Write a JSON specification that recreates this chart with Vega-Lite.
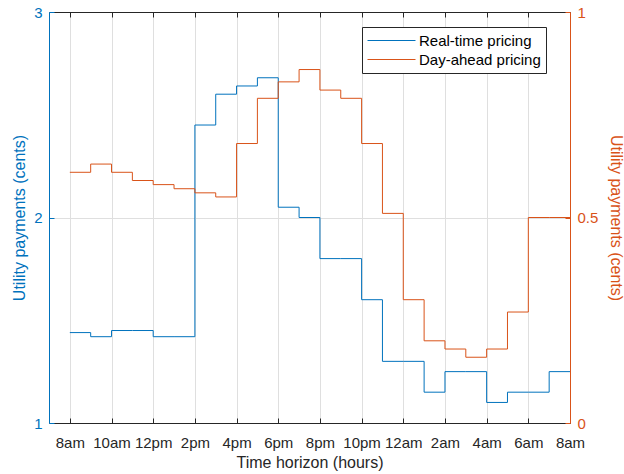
{
  "$schema": "https://vega.github.io/schema/vega-lite/v6.json",
  "width": 521,
  "height": 411,
  "autosize": {"type": "none"},
  "padding": {"left": 49, "top": 12, "right": 54, "bottom": 51},
  "background": "white",
  "config": {
    "font": "Liberation Sans",
    "view": {"stroke": null},
    "axis": {
      "labelFontSize": 15,
      "titleFontSize": 16,
      "titleFontWeight": "normal",
      "gridColor": "#dfdfdf",
      "gridWidth": 1,
      "domainWidth": 1,
      "tickWidth": 1,
      "tickSize": -5,
      "labelPadding": 12,
      "labelOverlap": false,
      "labelFlush": false
    },
    "legend": {
      "orient": "none",
      "legendX": 313,
      "legendY": 15,
      "strokeColor": "#262626",
      "fillColor": "white",
      "padding": 5,
      "symbolType": "M-3,0H3",
      "symbolSize": 256,
      "symbolOffset": 16,
      "symbolStrokeWidth": 1,
      "labelFontSize": 15,
      "labelColor": "#000000",
      "labelOffset": 19,
      "rowPadding": 2
    }
  },
  "data": {
    "values": [
      {"t": 0, "rt": 1.44, "da": 0.61},
      {"t": 1, "rt": 1.42, "da": 0.63},
      {"t": 2, "rt": 1.45, "da": 0.61},
      {"t": 3, "rt": 1.45, "da": 0.59},
      {"t": 4, "rt": 1.42, "da": 0.58},
      {"t": 5, "rt": 1.42, "da": 0.57},
      {"t": 6, "rt": 2.45, "da": 0.56},
      {"t": 7, "rt": 2.60, "da": 0.55},
      {"t": 8, "rt": 2.64, "da": 0.68},
      {"t": 9, "rt": 2.68, "da": 0.79},
      {"t": 10, "rt": 2.05, "da": 0.83},
      {"t": 11, "rt": 2.00, "da": 0.86},
      {"t": 12, "rt": 1.80, "da": 0.81},
      {"t": 13, "rt": 1.80, "da": 0.79},
      {"t": 14, "rt": 1.60, "da": 0.68},
      {"t": 15, "rt": 1.30, "da": 0.51},
      {"t": 16, "rt": 1.30, "da": 0.30},
      {"t": 17, "rt": 1.15, "da": 0.20},
      {"t": 18, "rt": 1.25, "da": 0.18},
      {"t": 19, "rt": 1.25, "da": 0.16},
      {"t": 20, "rt": 1.10, "da": 0.18},
      {"t": 21, "rt": 1.15, "da": 0.27},
      {"t": 22, "rt": 1.15, "da": 0.50},
      {"t": 23, "rt": 1.25, "da": 0.50},
      {"t": 24, "rt": 1.25, "da": 0.50}
    ]
  },
  "layer": [
    {
      "mark": {"type": "line", "interpolate": "step-after", "strokeWidth": 1},
      "encoding": {
        "x": {
          "field": "t",
          "type": "quantitative",
          "scale": {"domain": [-1, 24], "nice": false, "zero": false},
          "axis": {
            "orient": "bottom",
            "values": [0, 2, 4, 6, 8, 10, 12, 14, 16, 18, 20, 22, 24],
            "labelExpr": "(((datum.value + 8) % 12) || 12) + (((datum.value + 8) % 24) < 12 ? 'am' : 'pm')",
            "labelPadding": 17,
            "title": "Time horizon (hours)",
            "titlePadding": 4,
            "domainColor": "#262626",
            "tickColor": "#262626",
            "labelColor": "#262626",
            "titleColor": "#262626",
            "grid": true
          }
        },
        "y": {
          "field": "rt",
          "type": "quantitative",
          "scale": {"domain": [1, 3], "nice": false, "zero": false},
          "axis": {
            "orient": "left",
            "values": [1, 2, 3],
            "format": "~g",
            "title": "Utility payments (cents)",
            "titlePadding": 6,
            "labelPadding": 12,
            "domainColor": "#0072BD",
            "tickColor": "#0072BD",
            "labelColor": "#0072BD",
            "titleColor": "#0072BD",
            "grid": true
          }
        },
        "color": {
          "datum": "Real-time pricing",
          "type": "nominal",
          "scale": {"domain": ["Real-time pricing", "Day-ahead pricing"], "range": ["#0072BD", "#D95319"]},
          "legend": {"title": null}
        }
      }
    },
    {
      "mark": {"type": "line", "interpolate": "step-after", "strokeWidth": 1},
      "encoding": {
        "x": {
          "field": "t",
          "type": "quantitative",
          "scale": {"domain": [-1, 24], "nice": false, "zero": false},
          "axis": {
            "orient": "top",
            "values": [0, 2, 4, 6, 8, 10, 12, 14, 16, 18, 20, 22, 24],
            "labels": false,
            "title": null,
            "domainColor": "#262626",
            "tickColor": "#262626",
            "grid": false
          }
        },
        "y": {
          "field": "da",
          "type": "quantitative",
          "scale": {"domain": [0, 1], "nice": false},
          "axis": {
            "orient": "right",
            "values": [0, 0.5, 1],
            "format": "~g",
            "title": "Utility payments (cents)",
            "titlePadding": 10,
            "labelPadding": 12,
            "domainColor": "#D95319",
            "tickColor": "#D95319",
            "labelColor": "#D95319",
            "titleColor": "#D95319",
            "grid": false
          }
        },
        "color": {
          "datum": "Day-ahead pricing",
          "type": "nominal",
          "legend": {"title": null}
        }
      }
    }
  ],
  "resolve": {"scale": {"y": "independent"}}
}
